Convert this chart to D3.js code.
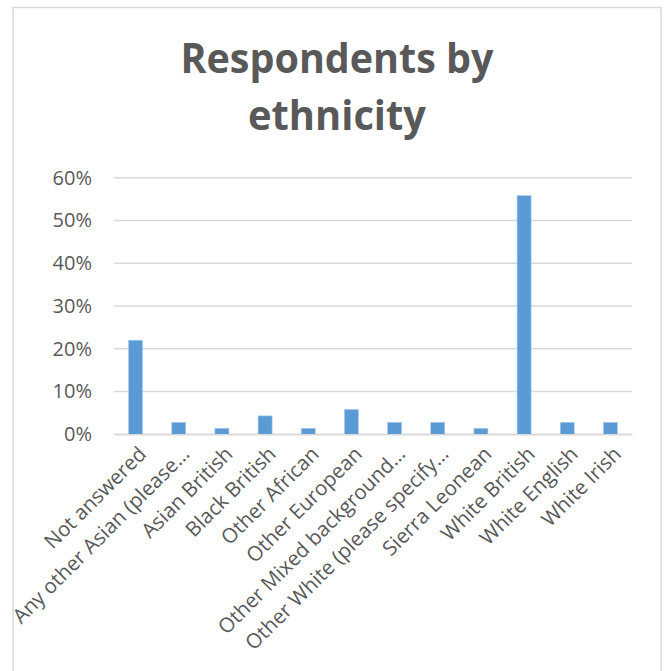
<!DOCTYPE html>
<html>
<head>
<meta charset="utf-8">
<script src="https://cdn.jsdelivr.net/npm/d3@7"></script>
<style>
  html, body { margin: 0; padding: 0; background: #fff; }
  svg { display: block; }
</style>
</head>
<body>
<svg id="chart" width="664" height="671"></svg>
<script>
const categories = [
  "Not answered",
  "Any other Asian (please…",
  "Asian British",
  "Black British",
  "Other African",
  "Other European",
  "Other Mixed background…",
  "Other White (please specify…",
  "Sierra Leonean",
  "White British",
  "White English",
  "White Irish"
];
const values = [0.22, 0.028, 0.014, 0.043, 0.014, 0.058, 0.028, 0.028, 0.014, 0.558, 0.028, 0.028];
const yTicks = [0, 0.1, 0.2, 0.3, 0.4, 0.5, 0.6];
const titleLines = ["Respondents by", "ethnicity"];

const svg = d3.select("#chart");
const W = 664, H = 671;
const margin = { left: 114, right: 32, top: 177.7, bottom: 236.7 };

// chart border
svg.append("rect")
  .attr("x", 13).attr("y", 7.5)
  .attr("width", 648).attr("height", 680)
  .attr("fill", "#fff")
  .attr("stroke", "#d9d9d9").attr("stroke-width", 1.5);

// title
const title = svg.append("text")
  .attr("text-anchor", "middle")
  .attr("fill", "#595959")
  .style("font-family", "'Open Sans', sans-serif")
  .style("font-weight", "700")
  .style("font-size", "41px");
titleLines.forEach((t, i) => {
  title.append("tspan")
    .attr("x", 337).attr("y", 72.7 + i * 57.5)
    .text(t);
});
const targetW = [313, 178];
title.selectAll("tspan").each(function(d, i) {
  d3.select(this).attr("textLength", targetW[i]).attr("lengthAdjust", "spacingAndGlyphs");
});

const x = d3.scaleBand()
  .domain(categories)
  .range([margin.left, W - margin.right])
  .paddingInner(0.676)
  .paddingOuter(0.338);

const y = d3.scaleLinear()
  .domain([0, 0.6])
  .range([H - margin.bottom, margin.top]);

// gridlines
svg.append("g")
  .selectAll("line")
  .data(yTicks)
  .join("line")
  .attr("x1", margin.left).attr("x2", W - margin.right)
  .attr("y1", d => y(d)).attr("y2", d => y(d))
  .attr("stroke", "#d9d9d9").attr("stroke-width", 1.5);

// y axis labels
const yAxis = d3.axisLeft(y).tickValues(yTicks).tickFormat(d3.format(".0%")).tickSize(0).tickPadding(0);
const yg = svg.append("g").attr("transform", `translate(${margin.left - 22},0)`).call(yAxis);
yg.select(".domain").remove();
yg.selectAll("text")
  .attr("fill", "#595959")
  .style("font-family", "'Open Sans', sans-serif")
  .style("font-size", "20px");

// bars
svg.append("g")
  .selectAll("rect")
  .data(values)
  .join("rect")
  .attr("x", (d, i) => x(categories[i]))
  .attr("width", x.bandwidth())
  .attr("y", d => y(d))
  .attr("height", d => y(0) - y(d))
  .attr("fill", "#5b9bd5")
  .attr("stroke", "#a9c9ea").attr("stroke-width", 0.6);

// x axis
const xAxis = d3.axisBottom(x).tickSize(0).tickPadding(0);
const xg = svg.append("g").attr("transform", `translate(0,${y(0)})`).call(xAxis);
xg.select(".domain").attr("stroke", "#d9d9d9").attr("stroke-width", 1.5);
xg.selectAll("text")
  .attr("fill", "#595959")
  .style("font-family", "'Open Sans', sans-serif")
  .style("font-size", "20.5px")
  .attr("text-anchor", "end")
  .attr("dy", null)
  .attr("transform", "translate(12,21) rotate(-45)");
</script>
</body>
</html>
